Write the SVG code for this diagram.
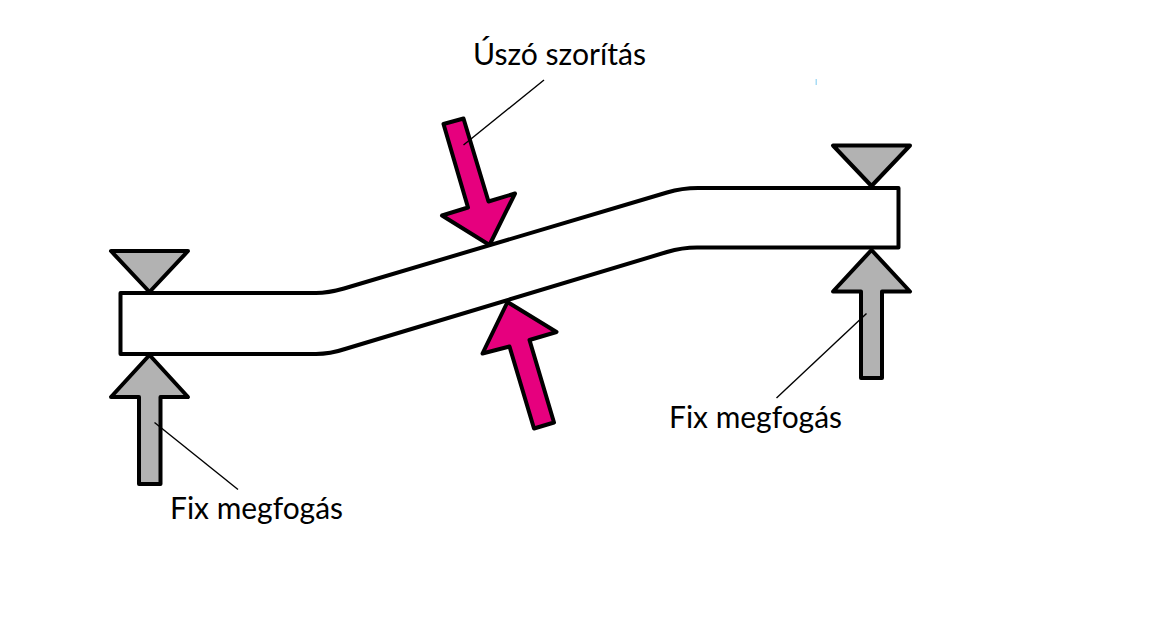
<svg xmlns="http://www.w3.org/2000/svg" width="1152" height="621" viewBox="0 0 1152 621">
<style>
.s{stroke:#000;stroke-width:4;stroke-linejoin:round;stroke-linecap:round}
.g{fill:#b2b2b2}
.p{fill:#e6007e}
.b{fill:#fff}
.l{stroke:#000;stroke-width:1.4;fill:none}
text{font-family:"Lato","Open Sans","Liberation Sans",sans-serif;font-size:30px;fill:#000}
</style>
<rect width="1152" height="621" fill="#fff"/>
<g id="beam"><path class="s b" d="M120.500 293H316C326 293 335 291 344 288.500L667 192.500C677 189.500 687 188 698 188H898.500V247.500H697C687 247.500 677 249 667 252L345 349C336 352 327 354 316 354H120.500Z"/></g>
<g id="clamp-left-top"><path class="s g" d="M111 251H188L149.500 292Z"/></g>
<g id="clamp-left-bottom"><path class="s g" d="M149.500 355L188 397H160.500V484H139V397H111Z"/></g>
<g id="clamp-right-top"><path class="s g" d="M833 145.500H910L871.500 186Z"/></g>
<g id="clamp-right-bottom"><path class="s g" d="M871.500 250L910 291.500H882V378H861V291.500H833Z"/></g>
<g id="float-top"><path class="s p" d="M443.500 124L463.500 118.500L488.500 201.500L515 193.500L489.500 245L442 215.500L468 207.500Z"/></g>
<g id="float-bottom"><path class="s p" d="M507.500 302L556.500 332L529.500 340L554 422.500L534 428.500L509.500 346.500L482.500 353.500Z"/></g>
<g id="connectors">
<line class="l" x1="544" y1="80" x2="463.500" y2="145"/>
<line class="l" x1="154.500" y1="422.500" x2="238" y2="489.500"/>
<line class="l" x1="866.500" y1="313.500" x2="776.500" y2="398"/>
</g>
<g id="labels">
<text x="473" y="65" textLength="173" lengthAdjust="spacingAndGlyphs">Úszó szorítás</text>
<text x="170" y="519" textLength="173" lengthAdjust="spacingAndGlyphs">Fix megfogás</text>
<text x="669" y="428" textLength="173" lengthAdjust="spacingAndGlyphs">Fix megfogás</text>
</g>
<rect x="815.500" y="79" width="1.500" height="6" fill="#a8dcf5"/>
</svg>
